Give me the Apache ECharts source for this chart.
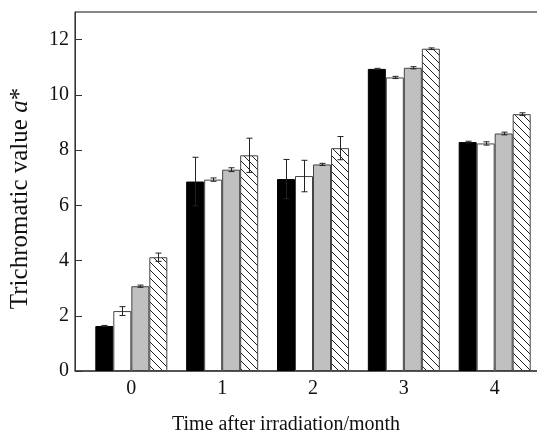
<!DOCTYPE html>
<html>
<head>
<meta charset="utf-8">
<script src="https://cdn.jsdelivr.net/npm/echarts@6/dist/echarts.min.js"></script>
<style>
html, body { margin: 0; padding: 0; background: #fff; }
#main { width: 537px; height: 439px; }
</style>
</head>
<body>
<div id="main"></div>
<script>
var months = [0, 1, 2, 3, 4];
var yTicks = [0, 2, 4, 6, 8, 10, 12];

// mean values of the four groups
var black = [1.63, 6.86, 6.95, 10.94, 8.29];
var white = [2.17, 6.93, 7.06, 10.63, 8.24];
var gray = [3.07, 7.29, 7.48, 10.98, 8.60];
var hatch = [4.12, 7.81, 8.07, 11.67, 9.30];

// error bars
var errBlack = [0.02, 0.88, 0.71, 0.02, 0.03];
var errWhite = [0.16, 0.06, 0.57, 0.04, 0.06];
var errGray = [0.04, 0.07, 0.04, 0.04, 0.05];
var errHatch = [0.15, 0.62, 0.42, 0.03, 0.05];

var font = '"Liberation Serif", "Times New Roman", serif';
var barW = 18;

// diagonal hatch pattern
var pat = document.createElement('canvas');
pat.width = 8;
pat.height = 8;
var ctx = pat.getContext('2d');
ctx.fillStyle = '#fff';
ctx.fillRect(0, 0, 8, 8);
ctx.strokeStyle = '#222';
ctx.lineWidth = 1;
ctx.beginPath();
ctx.moveTo(-1, -1); ctx.lineTo(9, 9);
ctx.moveTo(-1, 7); ctx.lineTo(1, 9);
ctx.moveTo(7, -1); ctx.lineTo(9, 1);
ctx.stroke();

function pairs(vals) {
    return vals.map(function (v, i) { return [months[i], v]; });
}

function barSeries(vals, color, border) {
    return {
        type: 'bar',
        data: pairs(vals),
        barWidth: barW,
        barGap: '0%',
        itemStyle: { color: color, borderColor: border, borderWidth: 1 },
        silent: true
    };
}

function errSeries(vals, errs, k) {
    var off = (k - 1.5) * barW;
    return {
        type: 'custom',
        z: 5,
        silent: true,
        encode: { x: 0, y: 1 },
        data: vals.map(function (v, i) { return [months[i], v, errs[i]]; }),
        renderItem: function (params, api) {
            var x = api.value(0), y = api.value(1), e = api.value(2);
            var hi = api.coord([x, y + e]);
            var lo = api.coord([x, y - e]);
            var cx = Math.round(hi[0] + off) + 0.5;
            var st = { stroke: '#222', lineWidth: 1 };
            return {
                type: 'group',
                children: [
                    { type: 'line', shape: { x1: cx, y1: hi[1], x2: cx, y2: lo[1] }, style: st },
                    { type: 'line', shape: { x1: cx - 3, y1: hi[1], x2: cx + 3, y2: hi[1] }, style: st },
                    { type: 'line', shape: { x1: cx - 3, y1: lo[1], x2: cx + 3, y2: lo[1] }, style: st }
                ]
            };
        }
    };
}

var myChart = echarts.init(document.getElementById('main'));

var option = {
    animation: false,
    backgroundColor: '#fff',
    grid: {
        left: 75,
        right: -14,
        top: 12,
        bottom: 68,
        outerBoundsMode: 'none',
        show: true,
        borderColor: '#111',
        borderWidth: 1
    },
    xAxis: {
        type: 'value',
        min: -0.62,
        max: 4.62,
        name: 'Time after irradiation/month',
        nameLocation: 'middle',
        nameGap: 44,
        nameTextStyle: { fontFamily: font, fontSize: 20, color: '#111', padding: [0, 54, 0, 0] },
        axisLine: { onZero: false, lineStyle: { color: '#444', width: 1.5 } },
        axisTick: { show: true, inside: true, length: 4, customValues: months, lineStyle: { color: '#999' } },
        axisLabel: { customValues: months, fontFamily: font, fontSize: 20, color: '#111', margin: 8 },
        splitLine: { show: false }
    },
    yAxis: {
        type: 'value',
        min: 0,
        max: 13,
        name: 'Trichromatic value {i|a}*',
        nameLocation: 'middle',
        nameGap: 42,
        nameTextStyle: {
            fontFamily: font, fontSize: 25, color: '#111', padding: [0, 14, 0, 0],
            rich: { i: { fontFamily: font, fontSize: 25, fontStyle: 'italic', color: '#111' } }
        },
        axisLine: { show: true, onZero: false, lineStyle: { color: '#333', width: 1 } },
        axisTick: { show: true, inside: true, length: 7, customValues: yTicks, lineStyle: { color: '#333' } },
        axisLabel: { customValues: yTicks, fontFamily: font, fontSize: 20, color: '#111', margin: 6 },
        splitLine: { show: false }
    },
    series: [
        barSeries(black, '#000', '#000'),
        barSeries(white, '#fff', '#444'),
        barSeries(gray, '#c0c0c0', '#444'),
        barSeries(hatch, { image: pat, repeat: 'repeat' }, '#444'),
        errSeries(black, errBlack, 0),
        errSeries(white, errWhite, 1),
        errSeries(gray, errGray, 2),
        errSeries(hatch, errHatch, 3)
    ]
};

myChart.setOption(option);
</script>
</body>
</html>
